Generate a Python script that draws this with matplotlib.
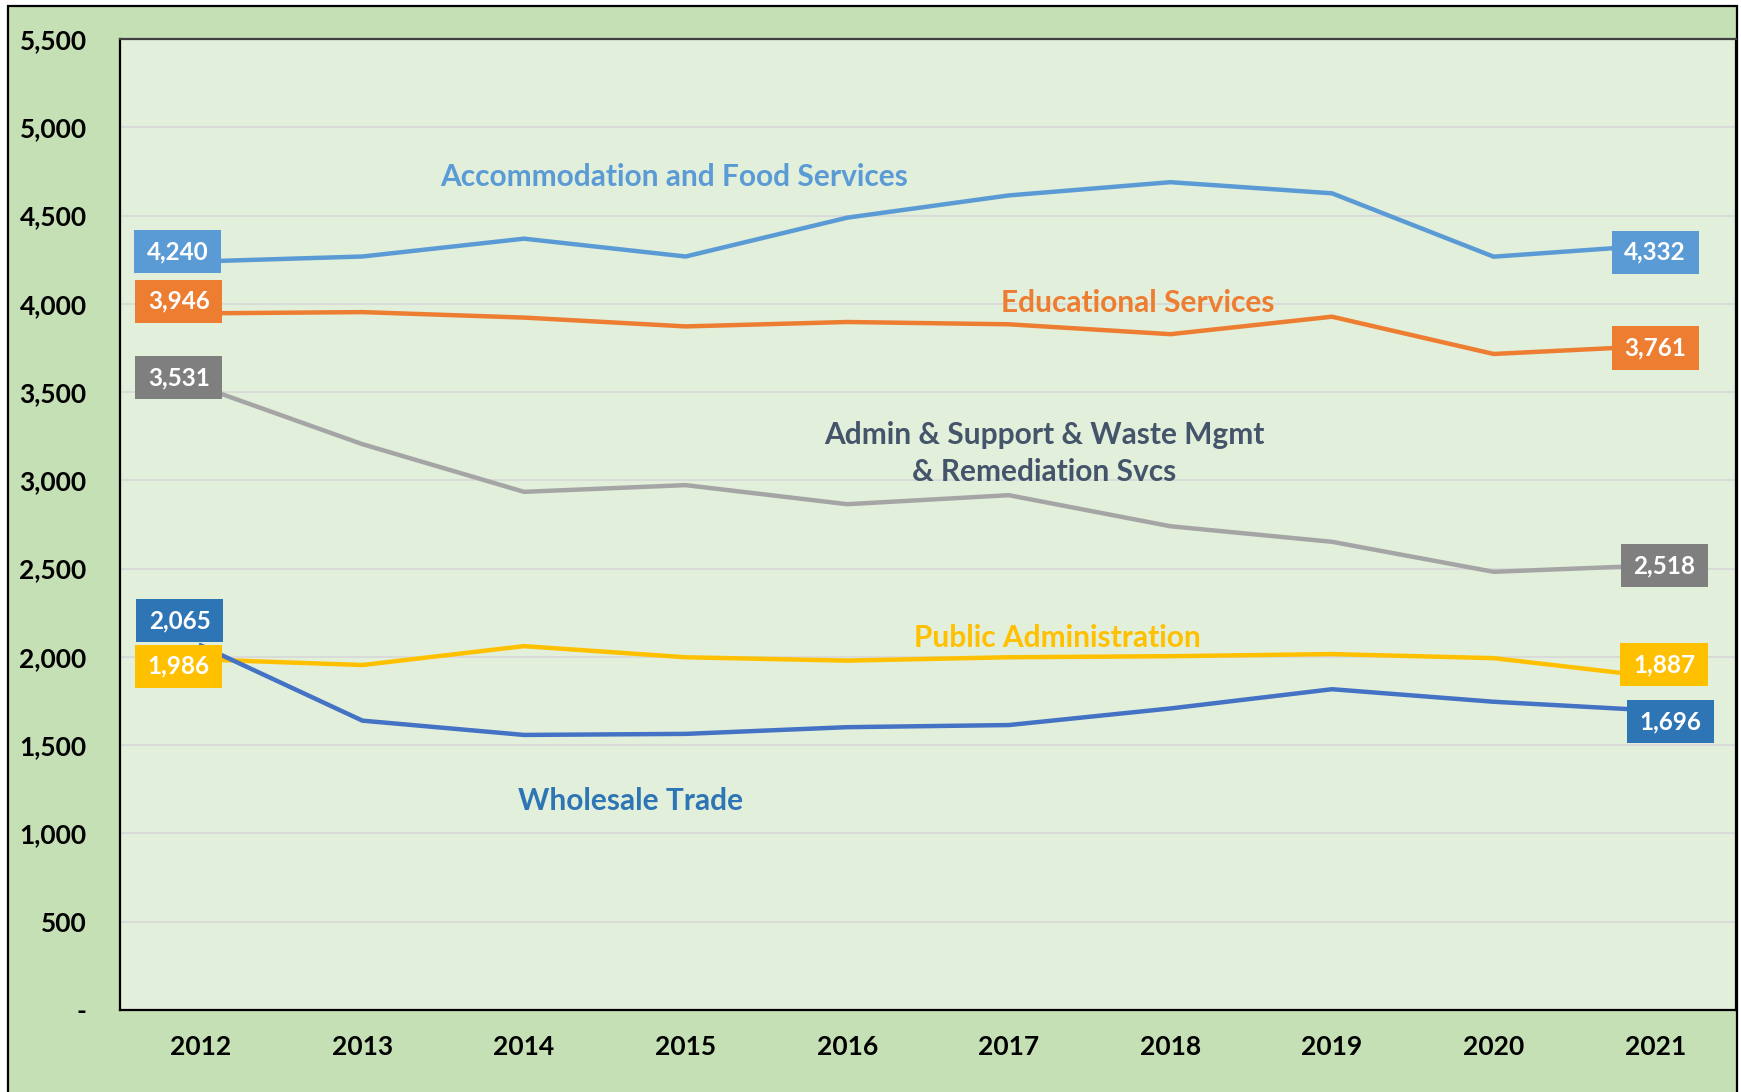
import matplotlib
matplotlib.use("Agg")
import matplotlib.pyplot as plt
from matplotlib.patches import Rectangle
from matplotlib.ticker import FixedLocator, FuncFormatter

years = ["2012", "2013", "2014", "2015", "2016", "2017", "2018", "2019", "2020", "2021"]
accommodation = [4240, 4268, 4369, 4268, 4488, 4614, 4689, 4626, 4267, 4332]
educational = [3946, 3953, 3922, 3872, 3897, 3884, 3828, 3927, 3716, 3761]
admin = [3531, 3205, 2935, 2973, 2865, 2916, 2740, 2652, 2482, 2518]
public_admin = [1986, 1954, 2061, 1998, 1979, 1998, 2004, 2016, 1993, 1887]
wholesale = [2065, 1639, 1558, 1564, 1602, 1614, 1708, 1817, 1746, 1696]
yticks = [0, 500, 1000, 1500, 2000, 2500, 3000, 3500, 4000, 4500, 5000, 5500]

FONT = ["Lato", "DejaVu Sans"]
plt.rcParams['font.family'] = FONT

W, H = 1741, 1092
fig = plt.figure(figsize=(W / 100, H / 100), dpi=100, facecolor="white")
# outer chart area
fig.patches.append(Rectangle((8 / W, -0.02), (1737 - 8) / W, 1.02 - 6 / H,
                             transform=fig.transFigure, facecolor="#c5e0b4",
                             edgecolor="black", linewidth=1.6, zorder=-10))

ax = fig.add_axes([120 / W, (H - 1010) / H, (1736 - 120) / W, (1010 - 39) / H])
ax.set_zorder(1)
ax.set_facecolor("#e2efda")
x = list(range(len(years)))

series = [
    (accommodation, "#5b9bd5", "#5b9bd5"),
    (educational, "#ed7d31", "#ed7d31"),
    (admin, "#a5a5a5", "#7f7f7f"),
    (public_admin, "#ffc000", "#ffc000"),
    (wholesale, "#4472c4", "#2e75b6"),
]
for vals, lc, bc in series:
    ax.plot(x, vals, color=lc, linewidth=3.2, solid_joinstyle="round", zorder=3)

ax.set_xlim(-0.5, len(years) - 0.5)
ax.set_ylim(0, 5500)
ax.yaxis.set_major_locator(FixedLocator(yticks))
ax.yaxis.set_major_formatter(FuncFormatter(lambda v, p: "-" if v == 0 else f"{int(v):,}"))
ax.set_xticks(x)
ax.set_xticklabels(years)
ax.grid(axis="y", color="#d9d9d9", linewidth=1.3, zorder=1)
ax.set_axisbelow(True)
ax.tick_params(axis="both", length=0, labelsize=19)
ax.tick_params(axis="y", pad=24)
ax.tick_params(axis="x", pad=18)
for lab in ax.get_xticklabels() + ax.get_yticklabels():
    lab.set_fontweight("bold")
    lab.set_color("black")
for side in ["left", "bottom", "right"]:
    ax.spines[side].set_color("black")
    ax.spines[side].set_linewidth(1.6)
ax.spines["top"].set_color("#404040")
ax.spines["top"].set_linewidth(1.6)

# data labels (box offsets in pixels), series order
left_offsets = [(-23, 10), (-22, 12), (-22, 9), (-22, -7), (-21, 25)]
right_offsets = [(0, -7), (0, -2), (9, 0), (9, 12), (15, -11)]

def box_label(xi, yi, off, bc):
    ax.annotate(f"{yi:,}", xy=(xi, yi), xytext=off, textcoords="offset pixels",
                ha="center", va="center", fontsize=17.5, fontweight="bold", color="white",
                bbox=dict(boxstyle="square,pad=0.52", facecolor=bc, edgecolor="none",
                          mutation_aspect=0.8),
                zorder=5)

for (vals, lc, bc), lo, ro in zip(series, left_offsets, right_offsets):
    box_label(0, vals[0], lo, bc)
    box_label(len(years) - 1, vals[-1], ro, bc)

# series names
name_kw = dict(ha="center", va="center", fontsize=21.5, fontweight="bold", zorder=4)
ax.text(2.93, 4721, "Accommodation and Food Services", color="#5b9bd5", **name_kw)
ax.text(5.80, 4005, "Educational Services", color="#ed7d31", **name_kw)
ax.text(5.22, 3150, "Admin & Support & Waste Mgmt\n& Remediation Svcs", color="#44546a",
        linespacing=1.4, **name_kw)
ax.text(5.30, 2108, "Public Administration", color="#ffc000", **name_kw)
ax.text(2.66, 1185, "Wholesale Trade", color="#2e75b6", **name_kw)

fig.savefig("out.png", dpi=100, facecolor=fig.get_facecolor())
